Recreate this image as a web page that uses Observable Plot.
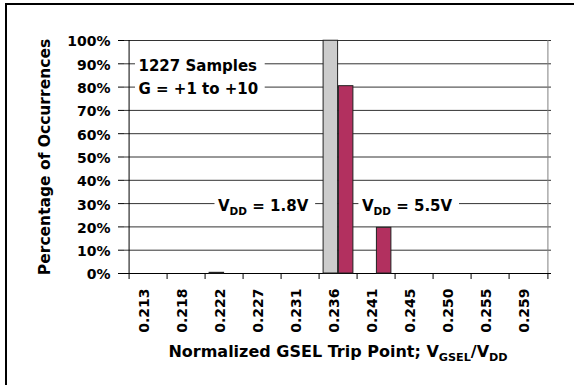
<!DOCTYPE html>
<html><head><meta charset="utf-8">
<script src="https://cdn.jsdelivr.net/npm/d3@7"></script>
<script src="https://cdn.jsdelivr.net/npm/@observablehq/plot@0.6"></script>
<style>
html,body{margin:0;padding:0;background:#fff;overflow:hidden}
#frame{position:absolute;left:5px;top:3px;width:620px;height:420px;border-left:2px solid #000;border-top:2px solid #000;box-sizing:border-box}
#chart{position:absolute;left:0;top:0}
</style></head><body>
<div id="frame"></div><div id="chart"></div>
<script>
// ---- data ----
const categories = ["0.213","0.218","0.222","0.227","0.231","0.236","0.241","0.245","0.250","0.255","0.259"];
const vdd18 = [0, 0, 0.3, 0, 0, 99.9, 0, 0, 0, 0, 0];   // % of occurrences, VDD = 1.8V
const vdd55 = [0, 0, 0, 0, 0, 80.4, 19.6, 0, 0, 0, 0];  // % of occurrences, VDD = 5.5V
const yTicks = [0, 10, 20, 30, 40, 50, 60, 70, 80, 90, 100];
const noteText = ["1227 Samples\nG = +1 to +10", "V{DD} = 1.8V", "V{DD} = 5.5V"];
const noteX = ["0.213", "0.222", "0.241"];
const noteY = [85, 30, 30];
const yTitle = "Percentage of Occurrences";
const xTitle = "Normalized GSEL Trip Point; V{GSEL}/V{DD}";

// ---- layout ----
const W = 574, H = 385, mL = 124, mR = 23, mT = 40, mB = 112;
const bw = (W - mL - mR) / categories.length;
const gpad = 4.1, barW = (bw - 2 * gpad) / 2;
const noteDx = [-10, -6.5, -14.6];
const last = categories[categories.length - 1];

const s18 = categories.map((c, i) => ({c, v: vdd18[i]})).filter(d => d.v > 0);
const s55 = categories.map((c, i) => ({c, v: vdd55[i]})).filter(d => d.v > 0);

const noteMarks = noteText.map((t, i) =>
  Plot.text([{t, x: noteX[i], y: noteY[i]}], {x: "x", y: "y", text: "t", textAnchor: "start", lineAnchor: "middle", lineHeight: 1.487, dx: noteDx[i], fontSize: 15})
);

const plot = Plot.plot({
  width: W, height: H,
  marginLeft: mL, marginRight: mR, marginTop: mT, marginBottom: mB,
  style: {fontFamily: "'DejaVu Sans', sans-serif", fontWeight: "bold", fontSize: "14px", color: "#000", background: "transparent", overflow: "visible"},
  x: {type: "band", domain: categories, padding: 0, axis: null},
  y: {domain: [0, 100], axis: null},
  marks: [
    Plot.ruleY(yTicks.filter(v => v > 0), {stroke: "#333", strokeWidth: 1}),
    Plot.ruleX([last], {dx: bw / 2, stroke: "#808080"}),
    Plot.ruleY([0], {stroke: "#000"}),
    Plot.ruleX(categories, {x: d => d, dx: -bw / 2, y1: 0, y2: 0, insetBottom: -6, stroke: "#000"}),
    Plot.ruleX([last], {x: d => d, dx: bw / 2, y1: 0, y2: 0, insetBottom: -6, stroke: "#000"}),
    Plot.ruleX([categories[0]], {x: d => d, dx: -bw / 2, stroke: "#000"}),
    Plot.ruleY(yTicks, {y: d => d, insetLeft: -6, insetRight: W - mL - mR, stroke: "#000"}),
    Plot.text(yTicks, {y: d => d, text: d => d + "%", frameAnchor: "left", textAnchor: "end", dx: -14, dy: 1.5, fontSize: 14}),
    Plot.barY(s18, {x: "c", y: "v", fill: "#cccccc", stroke: "#222", strokeWidth: 1, insetLeft: gpad, insetRight: gpad + barW}),
    Plot.barY(s55, {x: "c", y: "v", fill: "#b2305f", stroke: "#222", strokeWidth: 1, insetLeft: gpad + barW, insetRight: gpad}),
    Plot.text(categories, {x: d => d, text: d => d, frameAnchor: "bottom", rotate: -90, textAnchor: "end", dy: 15, fontSize: 14}),
    ...noteMarks,
    Plot.text([yTitle], {text: d => d, frameAnchor: "left", rotate: -90, textAnchor: "middle", dx: -79, fontSize: 15.5}),
    Plot.text([xTitle], {text: d => d, frameAnchor: "bottom", lineAnchor: "bottom", dy: 83.4, fontSize: 16})
  ]
});
document.getElementById("chart").append(plot);

const svg = plot.tagName.toLowerCase() === "svg" ? plot : plot.querySelector("svg");
const NS = "http://www.w3.org/2000/svg";

// find note texts before editing contents
const noteEls = [];
svg.querySelectorAll("text").forEach(t => {
  const s = t.textContent.replace(/\s+/g, "");
  noteText.forEach(n => { if (s === n.replace(/\s+/g, "")) noteEls.push(t); });
});

// subscripts written as {..}
svg.querySelectorAll("text").forEach(t => {
  const s = t.textContent;
  if (!s.includes("{") || t.querySelector("tspan")) return;
  const fs = parseFloat(getComputedStyle(t).fontSize);
  const shift = fs * 0.28;
  t.textContent = "";
  let inSub = false;
  const re = /([^{}]+)|\{([^}]+)\}/g;
  let m;
  while ((m = re.exec(s))) {
    const sp = document.createElementNS(NS, "tspan");
    if (m[2] !== undefined) {
      sp.textContent = m[2];
      sp.setAttribute("font-size", (fs * 0.7) + "px");
      sp.setAttribute("dy", shift + "px");
      inSub = true;
    } else {
      sp.textContent = m[1];
      if (inSub) sp.setAttribute("dy", (-shift) + "px");
      inSub = false;
    }
    t.appendChild(sp);
  }
});

// white boxes behind the notes
noteEls.forEach(t => {
  const b = t.getBBox();
  const r = document.createElementNS(NS, "rect");
  r.setAttribute("x", b.x - 3.5);
  r.setAttribute("y", b.y - 1);
  r.setAttribute("width", b.width + 10);
  r.setAttribute("height", b.height + 2);
  r.setAttribute("fill", "#fff");
  const tr = t.getAttribute("transform");
  if (tr) r.setAttribute("transform", tr);
  t.parentNode.insertBefore(r, t);
});
</script>
</body></html>
